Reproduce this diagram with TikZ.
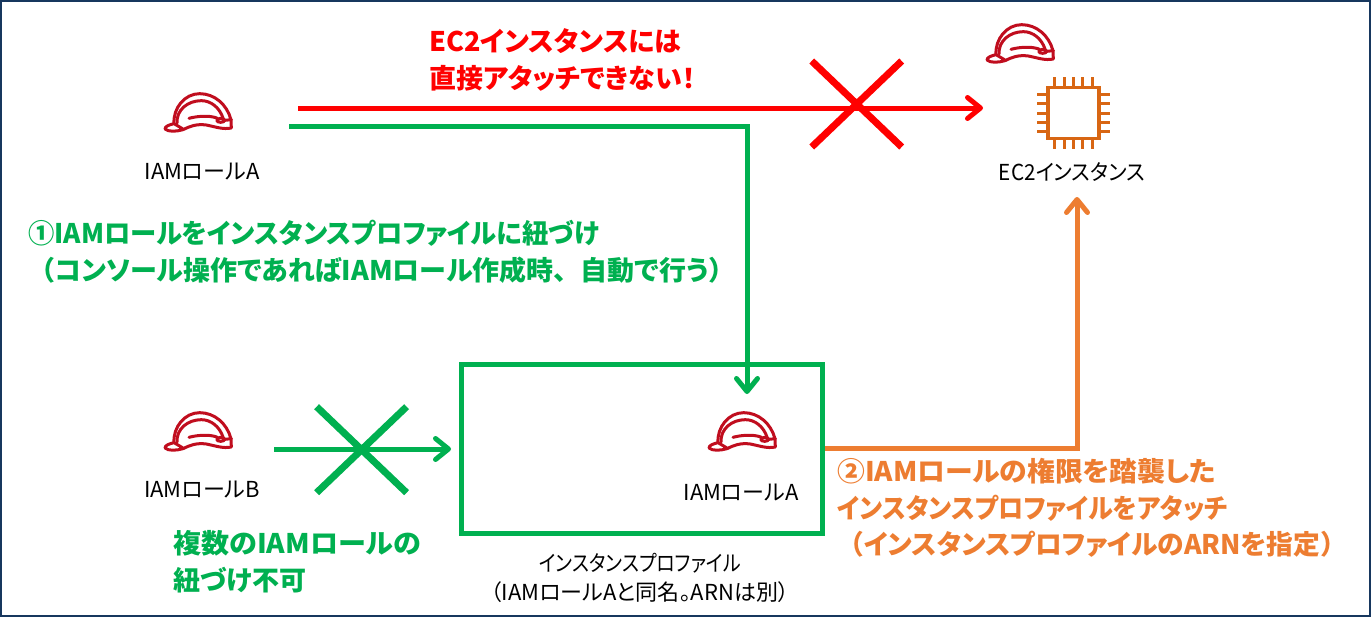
\documentclass[tikz,border=0pt]{standalone}
\usepackage{fontspec}
\setmainfont[RawFeature={+palt}]{Noto Sans CJK JP}
\newfontfamily\fullwidth{Noto Sans CJK JP}
\newcommand{\fw}[1]{{\fullwidth #1}}
\usetikzlibrary{arrows.meta,positioning}
\definecolor{framenavy}{HTML}{17375E}
\definecolor{hatred}{HTML}{C00D1E}
\definecolor{chiporange}{HTML}{D86613}
\definecolor{linkgreen}{HTML}{00B050}
\definecolor{linkorange}{HTML}{ED7D31}
\definecolor{linkred}{HTML}{FF0000}
\tikzset{
	hatline/.style={draw=hatred,line width=3pt,line join=round,line cap=round},
	pics/helmet/.style={code={
		\begin{scope}[scale=0.3333,shift={(-175,-130)},hatline]
			\draw (103,162) .. controls (100,115) and (135,72) .. (180,72)
				.. controls (225,72) and (262,105) .. (274,150) -- (275,175)
				.. controls (250,180) and (230,172) .. (200,166)
				.. controls (170,162) and (150,170) .. (130,180)
				.. controls (110,186) and (85,187) .. (76,178)
				.. controls (75,170) and (90,165) .. (103,162) -- (130,178);
			\draw (112,160) .. controls (110,120) and (145,93) .. (185,93)
				.. controls (215,93) and (240,115) .. (250,145);
			\draw (148,146) .. controls (170,140) and (205,136) .. (232,145);
			\draw (243,152) ellipse [x radius=12,y radius=6];
			\draw (255,152) -- (275,150);
		\end{scope}
	}},
	pics/crossmark/.style={code={
		\draw[line width=7pt,#1] (-45,-43) -- (45,43) (45,-43) -- (-45,43);
	}},
	chipbox/.style={draw=chiporange,line width=3.5pt,minimum size=51pt,inner sep=0pt},
	caption/.style={font=\fontsize{22}{29}\selectfont,align=center,text=black},
	note/.style={font=\fontsize{27}{36.5}\selectfont\bfseries,align=left,anchor=west,inner sep=0pt},
	link/.style={line width=5pt,-{Straight Barb[length=13pt,width=21pt,round]},line cap=butt},
}
\begin{document}
\begin{tikzpicture}[x=1pt,y=-1pt]
	\useasboundingbox (0,0) rectangle (1371,619);
	\draw[framenavy,line width=2.5pt] (1.2,1.2) rectangle (1369.8,616);
	\pic (hatA) at (198,113) {helmet};
	\pic (hatB) at (198,432) {helmet};
	\pic (hatEC) at (1020,44) {helmet};
	\pic (hatInner) at (742,432) {helmet};
	\node[chipbox] (chip) at (1073.5,113) {};
	\foreach \offset in {-18.7,-9.4,0,9.4,18.7} {
		\draw[chiporange,line width=3pt] ([xshift=\offset]chip.north) -- ++(0,-9);
		\draw[chiporange,line width=3pt] ([xshift=\offset]chip.south) -- ++(0,9);
		\draw[chiporange,line width=3pt] ([yshift=\offset]chip.west) -- ++(-9,0);
		\draw[chiporange,line width=3pt] ([yshift=\offset]chip.east) -- ++(9,0);
	}
	\node[draw=linkgreen,line width=5pt,minimum width=361pt,minimum height=169pt,inner sep=0pt] (profile) at (642,449) {};
	\node[caption] (labelA) at (202,172) {IAMロールA};
	\node[caption] (labelB) at (202,490) {IAMロールB};
	\node[caption] (labelInner) at (741,493) {IAMロールA};
	\node[caption] (labelEC) at (1072,172) {\scalebox{0.94}[1]{EC2インスタンス}};
	\node[caption] (labelProfile) at (640,578) {\scalebox{0.86}[1]{インスタンスプロファイル}\\（IAMロールAと同名。ARNは別）};
	\node[note,text=linkred] (noteRed) at (429,60) {EC2インスタンスには\\直接アタッチできない！};
	\node[note,text=linkgreen] (noteLink) at (28,252) {\scalebox{0.975}[1]{①IAMロールをインスタンスプロファイルに紐づけ}\\\fw{（}コンソール操作であればIAMロール作成時\fw{、}自動で行う\fw{）}};
	\node[note,text=linkgreen] (noteMulti) at (173,561.5) {\scalebox{1.04}[1]{複数のIAMロールの}\\紐づけ不可};
	\node[note,text=linkorange] (noteAttach) at (837,508) {\scalebox{1.03}[1]{②IAMロールの権限を踏襲した}\\\scalebox{0.93}[1]{インスタンスプロファイルをアタッチ}\\\scalebox{0.99}[1]{\fw{（}インスタンスプロファイルのARNを指定\fw{）}}};
	\coordinate (redStart) at (298,108);
	\coordinate (redEnd) at (983,108);
	\coordinate (greenStart) at (289,126);
	\coordinate (greenEnd) at (747,394);
	\coordinate (blockStart) at (274,449);
	\coordinate (blockEnd) at (451,449);
	\coordinate (orangeStart) at (profile.east |- 0,448);
	\coordinate (orangeEnd) at (1077,197);
	\draw[link,linkred] (redStart) -- (redEnd);
	\draw[link,linkgreen] (greenStart) -| (greenEnd);
	\draw[link,linkgreen] (blockStart) -- (blockEnd);
	\draw[link,linkorange] (orangeStart) -| (orangeEnd);
	\pic at (856.7,104) {crossmark=linkred};
	\pic at (361.6,449.7) {crossmark=linkgreen};
\end{tikzpicture}
\end{document}
